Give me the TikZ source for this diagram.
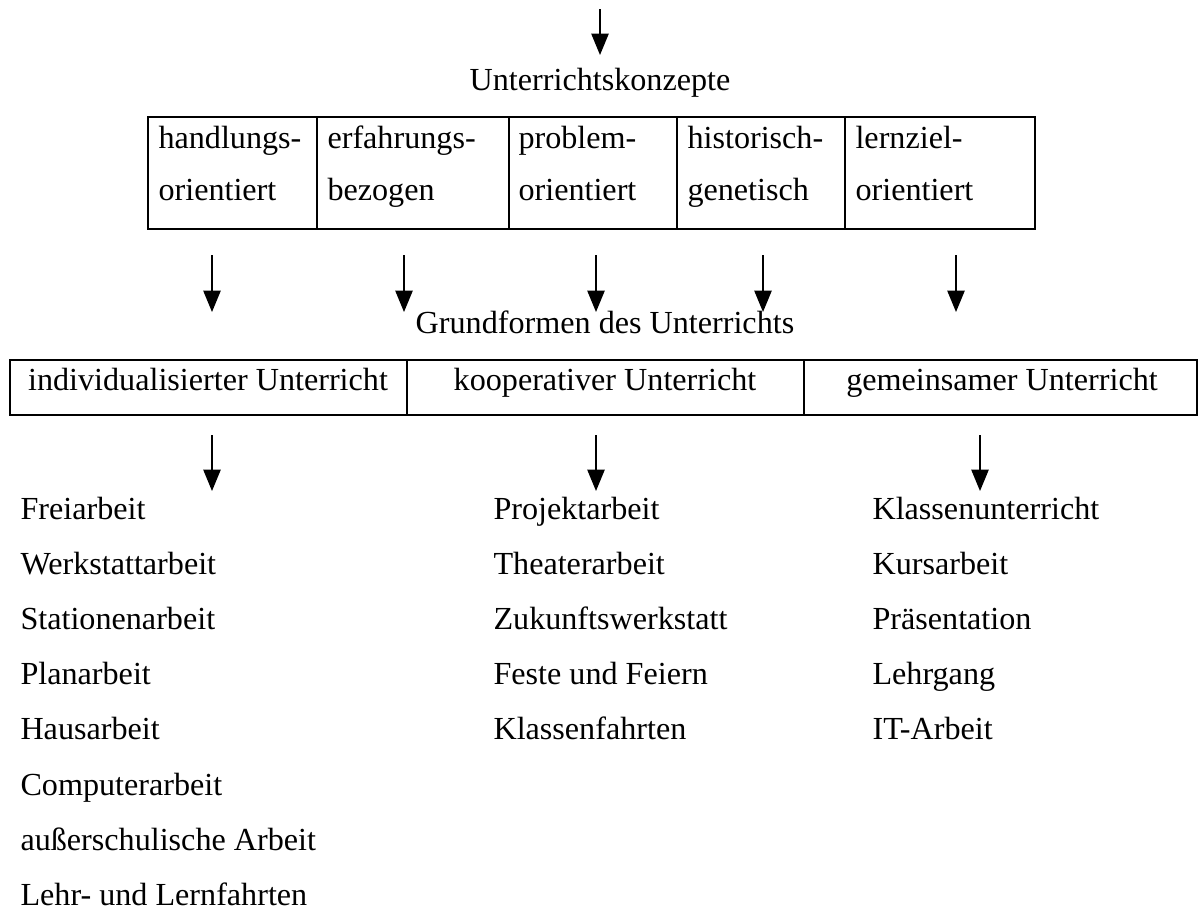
\documentclass[tikz,border=0pt]{standalone}
\usepackage{fontspec}
\setmainfont{Liberation Serif}
\usetikzlibrary{arrows.meta}
\def\pxu{0.37328pt}
\tikzset{
  txt/.style={inner sep=0pt, font=\fontsize{12}{14}\selectfont},
  cell/.style={draw, line width=0.75pt, inner sep=0pt, outer sep=0pt, anchor=north west},
  cellthin/.style={draw, line width=0.4pt, inner sep=0pt, outer sep=0pt, anchor=north west},
  arr/.style={line width=0.5pt, -{Triangle[length=8pt,width=6.5pt]}},
}
\begin{document}
\begin{tikzpicture}[x=0.37328pt, y=-0.37328pt]
\useasboundingbox (0,0) rectangle (1202,909);
% top arrow
\coordinate (a0s) at (600,9);
\coordinate (a0e) at (600,55);
\draw[arr] (a0s) -- (a0e);
\node[txt, anchor=base] (uk) at (600,90) {Unterrichtskonzepte};
% top table
\node[cell, minimum width=169*\pxu, minimum height=112*\pxu] (k1) at (148,117) {};
\node[cell, minimum width=192*\pxu, minimum height=112*\pxu] (k2) at (317,117) {};
\node[cell, minimum width=168*\pxu, minimum height=112*\pxu] (k3) at (509,117) {};
\node[cell, minimum width=168*\pxu, minimum height=112*\pxu] (k4) at (677,117) {};
\node[cell, minimum width=190*\pxu, minimum height=112*\pxu] (k5) at (845,117) {};
\node[txt, anchor=base west] (k1a) at (158,148) {handlungs-};
\node[txt, anchor=base west] (k1b) at (158,200) {orientiert};
\node[txt, anchor=base west] (k2a) at (327,148) {erfahrungs-};
\node[txt, anchor=base west] (k2b) at (327,200) {bezogen};
\node[txt, anchor=base west] (k3a) at (518,148) {problem-};
\node[txt, anchor=base west] (k3b) at (518,200) {orientiert};
\node[txt, anchor=base west] (k4a) at (687,148) {historisch-};
\node[txt, anchor=base west] (k4b) at (687,200) {genetisch};
\node[txt, anchor=base west] (k5a) at (855,148) {lernziel-};
\node[txt, anchor=base west] (k5b) at (855,200) {orientiert};
% middle arrows
\foreach \i/\x in {1/212,2/404,3/596,4/763,5/956}{
  \coordinate (m\i s) at (\x,255);
  \coordinate (m\i e) at (\x,312);
  \draw[arr] (m\i s) -- (m\i e);
}
\node[txt, anchor=base] (gf) at (605,333) {Grundformen des Unterrichts};
% bottom table
\node[cellthin, minimum width=397*\pxu, minimum height=55*\pxu] (g1) at (10,360) {};
\node[cellthin, minimum width=397*\pxu, minimum height=55*\pxu] (g2) at (407,360) {};
\node[cellthin, minimum width=393*\pxu, minimum height=55*\pxu] (g3) at (804,360) {};
\draw[line width=0.75pt] (g1.north west) rectangle (g3.south east);
\node[txt, anchor=base] (g1t) at (208,390) {individualisierter Unterricht};
\node[txt, anchor=base] (g2t) at (605,390) {kooperativer Unterricht};
\node[txt, anchor=base] (g3t) at (1002,390) {gemeinsamer Unterricht};
% lower arrows
\foreach \i/\x in {1/212,2/596,3/980}{
  \coordinate (b\i s) at (\x,435);
  \coordinate (b\i e) at (\x,491);
  \draw[arr] (b\i s) -- (b\i e);
}
% lists
\foreach \t [count=\k from 0] in {Freiarbeit,Werkstattarbeit,Stationenarbeit,Planarbeit,Hausarbeit,Computerarbeit,außerschulische Arbeit,Lehr- und Lernfahrten}{
  \node[txt, anchor=base west] (la\k) at (20,519+55.2*\k) {\t};
}
\foreach \t [count=\k from 0] in {Projektarbeit,Theaterarbeit,Zukunftswerkstatt,Feste und Feiern,Klassenfahrten}{
  \node[txt, anchor=base west] (lb\k) at (493,519+55.2*\k) {\t};
}
\foreach \t [count=\k from 0] in {Klassenunterricht,Kursarbeit,Präsentation,Lehrgang,IT-Arbeit}{
  \node[txt, anchor=base west] (lc\k) at (872,519+55.2*\k) {\t};
}
\end{tikzpicture}
\end{document}
